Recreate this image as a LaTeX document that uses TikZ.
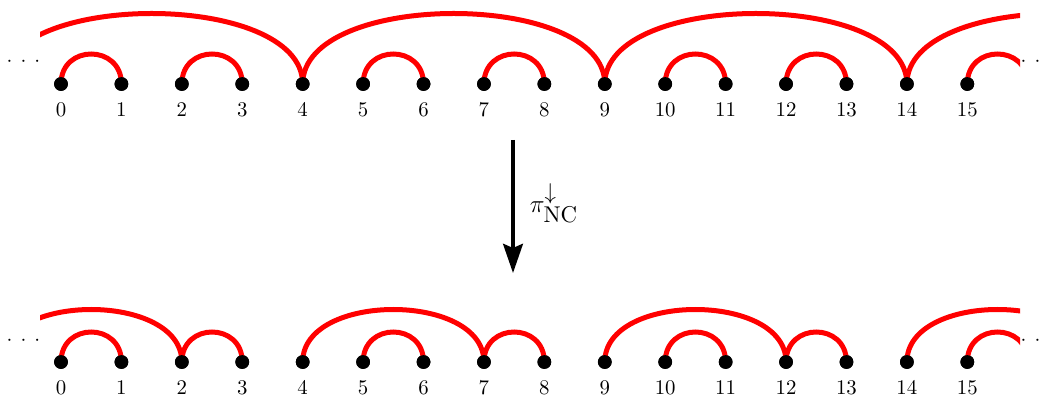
\documentclass[tikz,border=0pt]{standalone}
\usetikzlibrary{arrows.meta}
\DeclareMathSizes{12.6}{12.6}{10.8}{8}
\begin{document}
\begin{tikzpicture}[x=0.48pt,y=-0.48pt,
  vtx/.style={circle,fill=black,inner sep=0pt,minimum size=6.6pt},
  lbl/.style={inner sep=0pt,anchor=base,font=\normalsize},
  pairarc/.style={red,line width=2.4pt},
  mainarrow/.style={line width=1.7pt,-{Stealth[length=14pt,width=9.5pt,inset=2pt]}},
  ellip/.style={inner sep=0pt,anchor=base}]
\useasboundingbox (0,0) rectangle (1050,399);
% vertices
\foreach \i in {0,...,15}{
  \node[vtx] (t\i) at ({61+60.42*\i},84) {};
  \node[lbl] (tl\i) at ({61+60.42*\i},116.7) {\i};
  \node[vtx] (b\i) at ({61+60.42*\i},362) {};
  \node[lbl] (bl\i) at ({61+60.42*\i},394.7) {\i};
}
% virtual vertices beyond the ends
\coordinate (tm1) at ({61-60.42},84);
\coordinate (t16) at ({61+60.42*16},84);
\coordinate (t19) at ({61+60.42*19},84);
\coordinate (bm1) at ({61-60.42},362);
\coordinate (b16) at ({61+60.42*16},362);
\coordinate (b17) at ({61+60.42*17},362);
% ellipses
\node[ellip] (tdl) at (23.5,66.5) {${\cdot}\mkern7mu{\cdot}\mkern7mu{\cdot}$};
\node[ellip] (tdr) at (1037.5,66.5) {${\cdot}\mkern7mu{\cdot}\mkern7mu{\cdot}$};
\node[ellip] (bdl) at (23.5,345.5) {${\cdot}\mkern7mu{\cdot}\mkern7mu{\cdot}$};
\node[ellip] (bdr) at (1037.5,345.5) {${\cdot}\mkern7mu{\cdot}\mkern7mu{\cdot}$};
\begin{scope}
\clip (40,0) rectangle (1020,399);
% top row
\foreach \a/\b in {0/1,2/3,5/6,7/8,10/11,12/13,15/16}
  \draw[pairarc] (t\a.center) .. controls +(0,-40) and +(0,-40) .. (t\b.center);
\foreach \a/\b in {m1/4,4/9,9/14,14/19}
  \draw[pairarc] (t\a.center) .. controls +(0,-94) and +(0,-94) .. (t\b.center);
% bottom row
\foreach \a/\b in {0/1,2/3,5/6,7/8,10/11,12/13,15/16}
  \draw[pairarc] (b\a.center) .. controls +(0,-40) and +(0,-40) .. (b\b.center);
\foreach \a/\b in {m1/2,4/7,9/12,14/17}
  \draw[pairarc] (b\a.center) .. controls +(0,-70) and +(0,-70) .. (b\b.center);
\end{scope}
% redraw vertices on top
\foreach \i in {0,...,15}{
  \fill (t\i) circle (3.3pt);
  \fill (b\i) circle (3.3pt);
}
% arrow
\coordinate (a1) at (513,140);
\coordinate (a2) at (513,273);
\draw[mainarrow] (a1) -- (a2);
\node[inner sep=0pt,font=\fontsize{12.6}{15}\selectfont] (pl) at (554,203) {$\pi^{\downarrow}_{\mathrm{NC}}$};
\end{tikzpicture}
\end{document}
